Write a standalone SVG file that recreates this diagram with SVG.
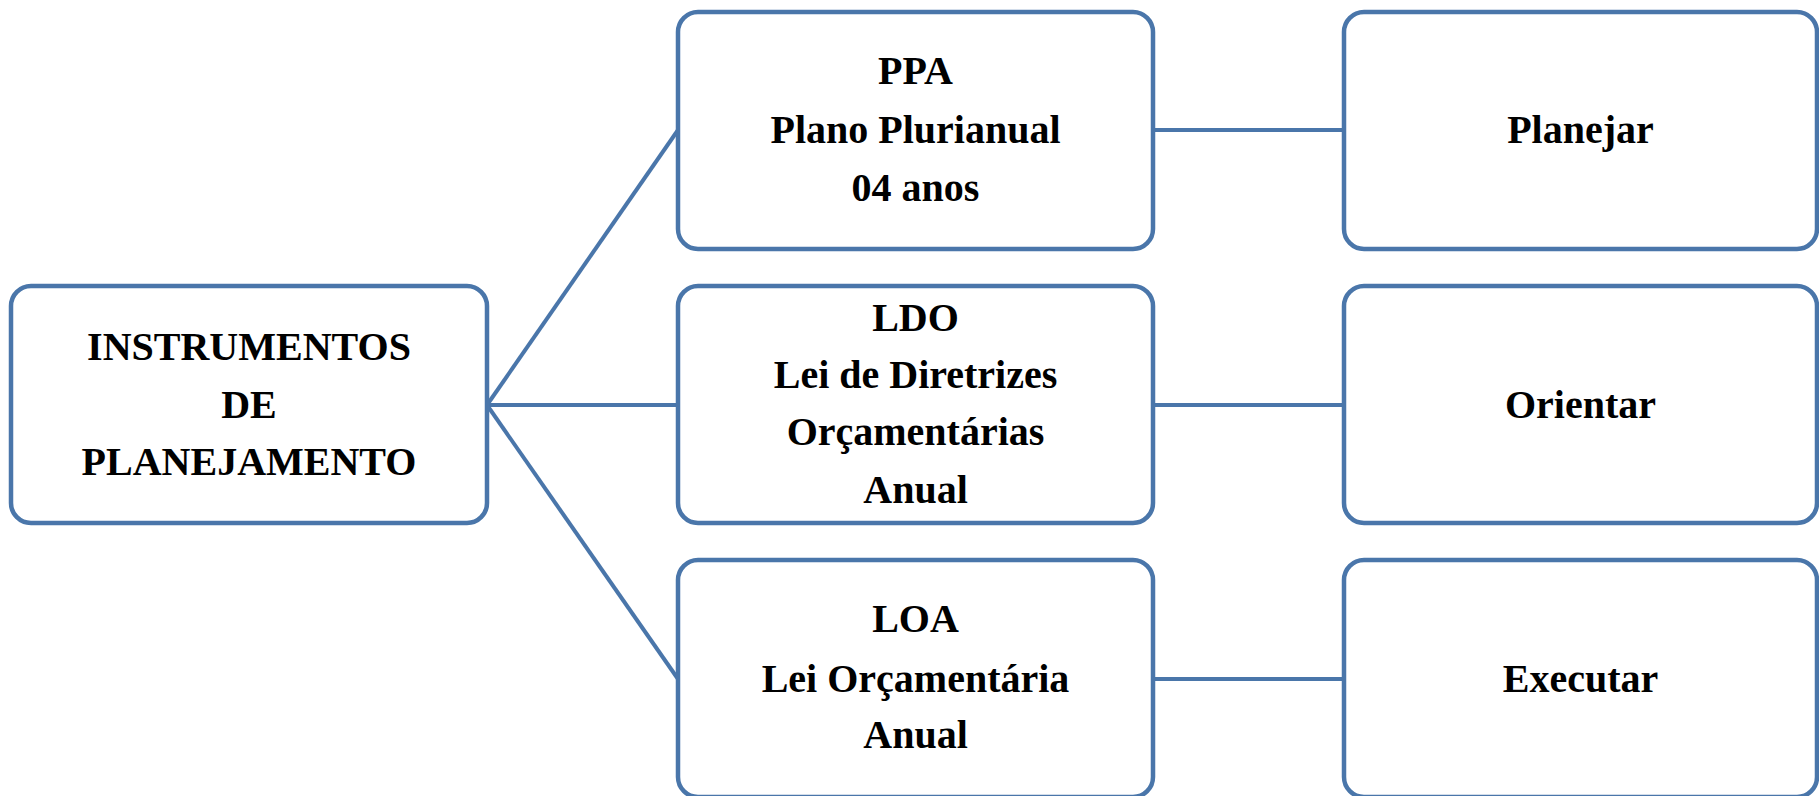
<svg xmlns="http://www.w3.org/2000/svg" width="1819" height="796" viewBox="0 0 1819 796">
<style>
.box{fill:#fff;stroke:#4A76AA;stroke-width:4.5}
.con{stroke:#4A76AA;stroke-width:4;fill:none}
text{font-family:"Liberation Serif","Times New Roman",serif;font-weight:bold;font-size:40px;fill:#000;text-anchor:middle}
</style>
<rect width="1819" height="796" fill="#fff"/>
<g id="connectors">
<line class="con" x1="487" y1="405" x2="678" y2="130"/>
<line class="con" x1="487" y1="405" x2="678" y2="405"/>
<line class="con" x1="487" y1="405" x2="678" y2="679"/>
<line class="con" x1="1153" y1="130" x2="1344" y2="130"/>
<line class="con" x1="1153" y1="405" x2="1344" y2="405"/>
<line class="con" x1="1153" y1="679" x2="1344" y2="679"/>
</g>
<g id="instrumentos">
<rect class="box" x="11" y="286" width="476" height="237" rx="20"/>
<text x="249" y="360">INSTRUMENTOS</text>
<text x="249" y="418">DE</text>
<text x="249" y="475">PLANEJAMENTO</text>
</g>
<g id="ppa">
<rect class="box" x="678" y="12" width="475" height="237" rx="20"/>
<text x="915.5" y="84">PPA</text>
<text x="915.5" y="143">Plano Plurianual</text>
<text x="915.5" y="201">04 anos</text>
</g>
<g id="ldo">
<rect class="box" x="678" y="286" width="475" height="237" rx="20"/>
<text x="915.5" y="331">LDO</text>
<text x="915.5" y="388">Lei de Diretrizes</text>
<text x="915.5" y="445">Orçamentárias</text>
<text x="915.5" y="503">Anual</text>
</g>
<g id="loa">
<rect class="box" x="678" y="560" width="475" height="237" rx="20"/>
<text x="915.5" y="632">LOA</text>
<text x="915.5" y="692">Lei Orçamentária</text>
<text x="915.5" y="748">Anual</text>
</g>
<g id="planejar">
<rect class="box" x="1344" y="12" width="473" height="237" rx="20"/>
<text x="1580.5" y="143">Planejar</text>
</g>
<g id="orientar">
<rect class="box" x="1344" y="286" width="473" height="237" rx="20"/>
<text x="1580.5" y="418">Orientar</text>
</g>
<g id="executar">
<rect class="box" x="1344" y="560" width="473" height="237" rx="20"/>
<text x="1580.5" y="692">Executar</text>
</g>
</svg>
